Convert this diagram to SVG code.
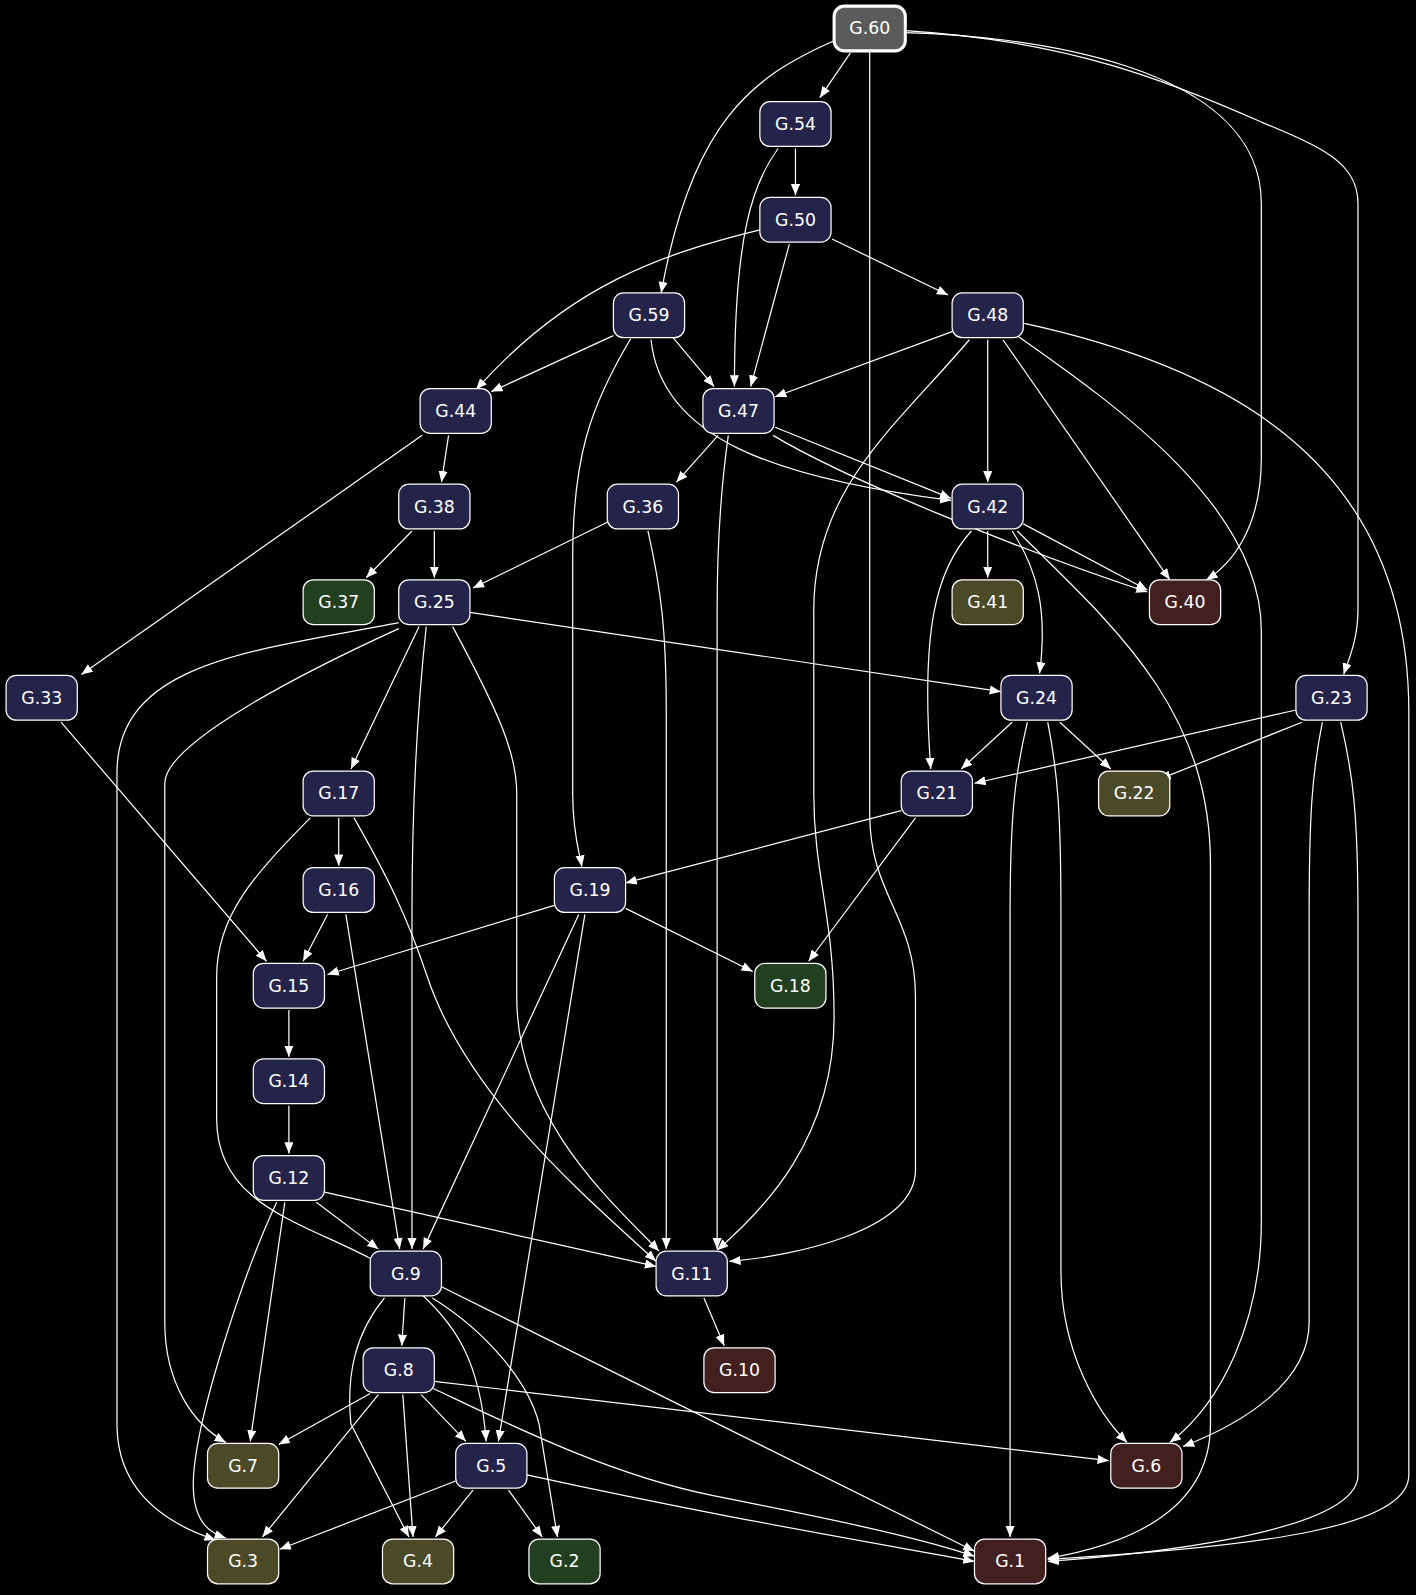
<svg xmlns="http://www.w3.org/2000/svg" width="1416" height="1595" viewBox="0 0 1416 1595">
<style>
.n rect{stroke:#fff;stroke-width:1.2}
.b rect{fill:#24244a}.g rect{fill:#22401f}.o rect{fill:#4a4a28}.m rect{fill:#432020}
.n text{fill:#fff;font-family:"DejaVu Sans",sans-serif;font-size:17px;text-anchor:middle;dominant-baseline:central}
#edges path{fill:none;stroke:#fff;stroke-width:1.2;marker-end:url(#a)}
</style>
<defs>
<marker id="a" markerUnits="userSpaceOnUse" markerWidth="12" markerHeight="10" refX="11" refY="4.5" orient="auto"><path d="M0,0 L11,4.5 L0,9 z" fill="#fff"/></marker>
</defs>
<rect width="1416" height="1595" fill="#000"/>
<g transform="scale(1.0172)">
<g id="edges">
<path d="M836,52 L806,96"/>
<path d="M820,40 C740,75 680,120 650,288"/>
<path d="M855,50 L855,800 C855,880 900,900 900,980 L900,1150 C900,1210 780,1235 717,1240"/>
<path d="M890,32 C1000,35 1240,60 1240,200 L1240,450 C1240,520 1210,555 1186,570"/>
<path d="M890,30 C1050,40 1150,80 1240,120 C1300,145 1335,160 1335,200 L1335,600 C1335,630 1325,650 1321,663"/>
<path d="M782,146 L782,192"/>
<path d="M765,146 C740,180 722,230 722,380"/>
<path d="M776,240 L738,380"/>
<path d="M818,235 L932,290"/>
<path d="M747,226 C650,250 560,280 468,383"/>
<path d="M603,330 L483,385"/>
<path d="M660,330 L702,380"/>
<path d="M640,334 C650,430 760,470 935,492"/>
<path d="M620,333 C580,400 563,450 563,550 L563,780 C563,820 570,840 572,852"/>
<path d="M936,326 L762,390"/>
<path d="M971,334 L971,474"/>
<path d="M986,334 L1150,570"/>
<path d="M953,334 C880,420 800,480 800,600 L800,780 C800,860 820,900 820,1000 C820,1120 750,1190 705,1229"/>
<path d="M1000,330 C1100,400 1240,500 1240,620 L1240,1200 C1240,1300 1200,1380 1150,1418"/>
<path d="M1007,318 C1200,360 1385,450 1385,700 L1385,1450 C1385,1500 1250,1520 1030,1533"/>
<path d="M441,428 L434,474"/>
<path d="M415,428 L80,663"/>
<path d="M706,428 L665,474"/>
<path d="M762,420 L935,490"/>
<path d="M716,428 C710,470 705,520 705,600 L705,1228"/>
<path d="M760,428 C830,470 1000,540 1128,582"/>
<path d="M971,522 L971,568"/>
<path d="M1006,515 L1128,580"/>
<path d="M995,522 C1020,560 1030,600 1022,662"/>
<path d="M955,522 C920,560 905,620 915,756"/>
<path d="M1000,522 C1100,620 1190,700 1190,850 L1190,1400 C1190,1490 1100,1520 1030,1532"/>
<path d="M405,522 L360,568"/>
<path d="M427,522 L427,568"/>
<path d="M598,513 L465,578"/>
<path d="M637,522 C650,580 655,620 655,700 L655,1228"/>
<path d="M462,602 L984,680"/>
<path d="M412,616 L345,756"/>
<path d="M419,616 C410,700 405,800 405,900 L405,1228"/>
<path d="M445,616 C490,700 508,740 508,780 L508,980 C508,1100 600,1180 648,1230"/>
<path d="M392,612 C250,640 115,650 115,760 L115,1400 C115,1470 170,1500 212,1514"/>
<path d="M392,618 C300,660 162,730 162,770 L162,1300 C162,1360 190,1400 222,1418"/>
<path d="M60,710 L262,945"/>
<path d="M995,710 L945,756"/>
<path d="M1042,710 L1092,756"/>
<path d="M1010,710 C998,760 993,800 993,900 L993,1511"/>
<path d="M1030,710 C1040,760 1043,800 1043,900 L1043,1250 C1043,1330 1080,1390 1108,1418"/>
<path d="M1274,698 L958,770"/>
<path d="M1280,710 L1140,766"/>
<path d="M1300,710 C1290,760 1287,800 1287,900 L1287,1300 C1287,1360 1220,1400 1163,1422"/>
<path d="M1318,710 C1330,760 1335,800 1335,900 L1335,1450 C1335,1510 1100,1530 1030,1535"/>
<path d="M886,797 L615,868"/>
<path d="M900,804 L795,945"/>
<path d="M333,804 L333,851"/>
<path d="M348,804 C380,860 400,900 420,960 C460,1080 580,1180 645,1240"/>
<path d="M305,804 C250,860 213,900 213,960 L213,1100 C213,1200 330,1205 400,1260 C450,1300 472,1340 478,1417"/>
<path d="M322,899 L298,945"/>
<path d="M340,899 L393,1228"/>
<path d="M545,890 L322,958"/>
<path d="M615,893 L740,955"/>
<path d="M569,899 L416,1228"/>
<path d="M575,899 L490,1417"/>
<path d="M284,993 L284,1039"/>
<path d="M284,1087 L284,1134"/>
<path d="M319,1172 L645,1245"/>
<path d="M311,1182 L372,1228"/>
<path d="M280,1182 L246,1417"/>
<path d="M272,1182 C240,1250 190,1400 190,1460 C190,1500 210,1508 222,1512"/>
<path d="M398,1276 L395,1323"/>
<path d="M434,1265 L958,1525"/>
<path d="M378,1276 C350,1310 340,1350 345,1400 L402,1511"/>
<path d="M425,1276 C480,1310 520,1360 530,1400 L548,1511"/>
<path d="M692,1276 L712,1323"/>
<path d="M364,1370 L274,1420"/>
<path d="M372,1371 L258,1511"/>
<path d="M396,1371 L406,1511"/>
<path d="M414,1371 L458,1417"/>
<path d="M427,1358 L1090,1436"/>
<path d="M426,1365 C500,1400 600,1450 700,1470 C800,1490 900,1510 958,1530"/>
<path d="M448,1456 L275,1523"/>
<path d="M465,1465 L428,1511"/>
<path d="M500,1465 L533,1511"/>
<path d="M518,1450 C700,1490 850,1515 958,1535"/>
</g>
<g id="n60" class="n"><rect x="820" y="6" width="70" height="44" rx="10" fill="#5a5a5a" style="stroke-width:3"/><text x="855" y="28">G.60</text></g>
<g id="n54" class="n b"><rect x="747" y="100" width="70" height="44" rx="10"/><text x="782" y="122">G.54</text></g>
<g id="n50" class="n b"><rect x="747" y="194" width="70" height="44" rx="10"/><text x="782" y="216">G.50</text></g>
<g id="n59" class="n b"><rect x="603" y="288" width="70" height="44" rx="10"/><text x="638" y="310">G.59</text></g>
<g id="n48" class="n b"><rect x="936" y="288" width="70" height="44" rx="10"/><text x="971" y="310">G.48</text></g>
<g id="n44" class="n b"><rect x="413" y="382" width="70" height="44" rx="10"/><text x="448" y="404">G.44</text></g>
<g id="n47" class="n b"><rect x="691" y="382" width="70" height="44" rx="10"/><text x="726" y="404">G.47</text></g>
<g id="n38" class="n b"><rect x="392" y="476" width="70" height="44" rx="10"/><text x="427" y="498">G.38</text></g>
<g id="n36" class="n b"><rect x="597" y="476" width="70" height="44" rx="10"/><text x="632" y="498">G.36</text></g>
<g id="n42" class="n b"><rect x="936" y="476" width="70" height="44" rx="10"/><text x="971" y="498">G.42</text></g>
<g id="n37" class="n g"><rect x="298" y="570" width="70" height="44" rx="10"/><text x="333" y="592">G.37</text></g>
<g id="n25" class="n b"><rect x="392" y="570" width="70" height="44" rx="10"/><text x="427" y="592">G.25</text></g>
<g id="n41" class="n o"><rect x="936" y="570" width="70" height="44" rx="10"/><text x="971" y="592">G.41</text></g>
<g id="n40" class="n m"><rect x="1130" y="570" width="70" height="44" rx="10"/><text x="1165" y="592">G.40</text></g>
<g id="n33" class="n b"><rect x="6" y="664" width="70" height="44" rx="10"/><text x="41" y="686">G.33</text></g>
<g id="n24" class="n b"><rect x="984" y="664" width="70" height="44" rx="10"/><text x="1019" y="686">G.24</text></g>
<g id="n23" class="n b"><rect x="1274" y="664" width="70" height="44" rx="10"/><text x="1309" y="686">G.23</text></g>
<g id="n17" class="n b"><rect x="298" y="758" width="70" height="44" rx="10"/><text x="333" y="780">G.17</text></g>
<g id="n21" class="n b"><rect x="886" y="758" width="70" height="44" rx="10"/><text x="921" y="780">G.21</text></g>
<g id="n22" class="n o"><rect x="1080" y="758" width="70" height="44" rx="10"/><text x="1115" y="780">G.22</text></g>
<g id="n16" class="n b"><rect x="298" y="853" width="70" height="44" rx="10"/><text x="333" y="875">G.16</text></g>
<g id="n19" class="n b"><rect x="545" y="853" width="70" height="44" rx="10"/><text x="580" y="875">G.19</text></g>
<g id="n15" class="n b"><rect x="249" y="947" width="70" height="44" rx="10"/><text x="284" y="969">G.15</text></g>
<g id="n18" class="n g"><rect x="742" y="947" width="70" height="44" rx="10"/><text x="777" y="969">G.18</text></g>
<g id="n14" class="n b"><rect x="249" y="1041" width="70" height="44" rx="10"/><text x="284" y="1063">G.14</text></g>
<g id="n12" class="n b"><rect x="249" y="1136" width="70" height="44" rx="10"/><text x="284" y="1158">G.12</text></g>
<g id="n9" class="n b"><rect x="364" y="1230" width="70" height="44" rx="10"/><text x="399" y="1252">G.9</text></g>
<g id="n11" class="n b"><rect x="645" y="1230" width="70" height="44" rx="10"/><text x="680" y="1252">G.11</text></g>
<g id="n8" class="n b"><rect x="357" y="1325" width="70" height="44" rx="10"/><text x="392" y="1347">G.8</text></g>
<g id="n10" class="n m"><rect x="692" y="1325" width="70" height="44" rx="10"/><text x="727" y="1347">G.10</text></g>
<g id="n7" class="n o"><rect x="204" y="1419" width="70" height="44" rx="10"/><text x="239" y="1441">G.7</text></g>
<g id="n5" class="n b"><rect x="448" y="1419" width="70" height="44" rx="10"/><text x="483" y="1441">G.5</text></g>
<g id="n6" class="n m"><rect x="1092" y="1419" width="70" height="44" rx="10"/><text x="1127" y="1441">G.6</text></g>
<g id="n3" class="n o"><rect x="204" y="1513" width="70" height="44" rx="10"/><text x="239" y="1535">G.3</text></g>
<g id="n4" class="n o"><rect x="376" y="1513" width="70" height="44" rx="10"/><text x="411" y="1535">G.4</text></g>
<g id="n2" class="n g"><rect x="520" y="1513" width="70" height="44" rx="10"/><text x="555" y="1535">G.2</text></g>
<g id="n1" class="n m"><rect x="958" y="1513" width="70" height="44" rx="10"/><text x="993" y="1535">G.1</text></g>
</g>
</svg>
